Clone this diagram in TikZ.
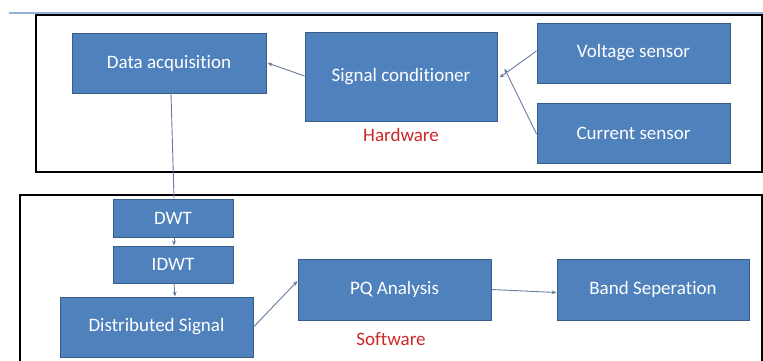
\documentclass[tikz,border=0pt]{standalone}
\usepackage{fontspec}
\setmainfont{Carlito}[Ligatures=NoCommon]
\usetikzlibrary{arrows.meta}
\definecolor{boxfill}{RGB}{79,129,189}
\definecolor{boxedge}{RGB}{56,93,138}
\definecolor{conn}{RGB}{105,125,160}
\definecolor{lbl}{RGB}{205,40,40}
\definecolor{topline}{RGB}{149,179,215}
\tikzset{
  blk/.style={draw=boxedge, line width=1pt, fill=boxfill, text=white, inner sep=0pt,
    font=\fontsize{19}{22}\selectfont},
  conarrow/.style={draw=conn, line width=0.9pt, -{Stealth[length=5pt,width=4pt]}},
  conline/.style={draw=conn, line width=0.9pt},
  frame/.style={draw=black, line width=2pt},
  area/.style={text=lbl, font=\fontsize{19}{22}\selectfont}
}
\begin{document}
\begin{tikzpicture}[x=1pt,y=-1pt]
\useasboundingbox (0,0) rectangle (763,360);
\fill[white] (0,0) rectangle (763,360);
% top rule and frames
\draw[topline, line width=2.5pt] (9,13) -- (763,13);
\draw[frame] (36,14.5) rectangle (762,172);
\draw[frame] (20,362) -- (20,195) -- (762,195) -- (762,362);
% hardware blocks
\node[blk, minimum width=194pt, minimum height=60pt] (da) at (169,63) {Data acquisition};
\node[blk, minimum width=192pt, minimum height=89pt] (sc) at (401,76.5) {Signal conditioner};
\node[blk, minimum width=193pt, minimum height=60pt] (vs) at (633.5,53) {Voltage sensor};
\node[blk, minimum width=193pt, minimum height=60pt] (cs) at (633.5,133) {Current sensor};
\node[area] (hw) at (401,135) {Hardware};
% software blocks
\node[blk, minimum width=120pt, minimum height=38pt] (dwt) at (173,218) {DWT};
\node[blk, minimum width=120pt, minimum height=37pt] (idwt) at (173,264.5) {IDWT};
\node[blk, minimum width=193pt, minimum height=60pt] (ds) at (156.5,327) {Distributed Signal};
\node[blk, minimum width=193pt, minimum height=61pt] (pq) at (394.5,289.5) {PQ Analysis};
\node[blk, minimum width=192pt, minimum height=61pt] (bs) at (653,289.5) {Band Seperation};
\node[area] (sw) at (391,339) {Software};
% connectors
\draw[conarrow] ([yshift=0.5pt]sc.west) -- ([yshift=0pt,xshift=1pt]da.east);
\draw[conarrow] ([yshift=2pt]vs.west) -- ([xshift=2pt,yshift=-1pt]sc.east);
\draw[conarrow] ([yshift=-1pt]cs.west) -- ([xshift=7pt,yshift=8pt]sc.east);
\draw[conline] ([xshift=2pt]da.south) -- ([xshift=1pt]dwt.north);
\draw[conarrow] ([xshift=1pt]dwt.south) -- ([xshift=1pt]idwt.north);
\draw[conarrow] ([xshift=1pt]idwt.south) -- ([xshift=18.5pt]ds.north);
\draw[conarrow] ([yshift=0pt]ds.east) -- ([yshift=8.5pt]pq.west);
\draw[conarrow] (pq.east) -- ([yshift=-3pt]bs.west);
\end{tikzpicture}
\end{document}
